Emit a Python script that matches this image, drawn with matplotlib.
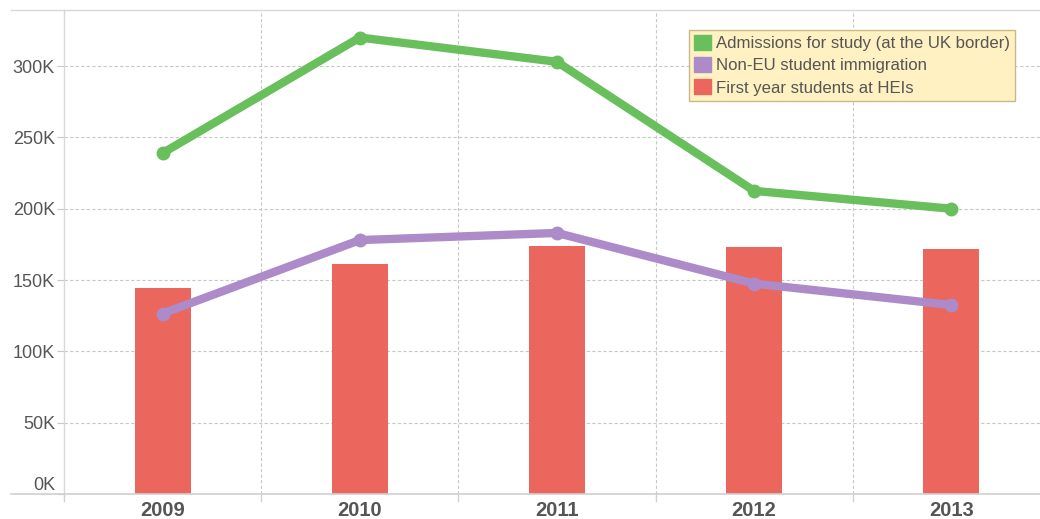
import numpy as np
import matplotlib
matplotlib.use("Agg")
import matplotlib.pyplot as plt
import matplotlib.transforms as mtransforms
from matplotlib.lines import Line2D
from matplotlib.patches import Patch

plt.rcParams['font.family'] = ['Liberation Sans', 'DejaVu Sans']

years = ['2009', '2010', '2011', '2012', '2013']
admissions = [239000, 320000, 303000, 212500, 200000]
non_eu = [126500, 178000, 183000, 147500, 132500]
first_year = [144500, 161500, 174000, 173000, 172000]

green = '#68bf5c'
purple = '#ad8ac8'
red = '#eb665c'
txt = '#555555'
gridc = '#c8c8c8'

fig = plt.figure(figsize=(10.4, 5.19), dpi=100)
ax = fig.add_axes([64 / 1040, 25 / 519, (1040 - 64) / 1040, (494 - 10) / 519])

x = np.arange(len(years))
ax.bar(x, first_year, width=0.284, color=red, zorder=2)
ax.plot(x, admissions, color=green, lw=6, marker='o', ms=9,
        solid_capstyle='round', zorder=3)
ax.plot(x, non_eu, color=purple, lw=6, marker='o', ms=9,
        solid_capstyle='round', zorder=3)

ax.set_xlim(-0.5, 4.45)
ax.set_ylim(0, 339300)

yt = np.arange(0, 300001, 50000)
ax.set_yticks(yt)
ax.set_yticklabels([f'{int(v/1000)}K' for v in yt], color=txt, fontsize=13)
ax.set_xticks(x)
ax.set_xticklabels(years, color=txt, fontsize=14.5, fontweight='bold')
ax.tick_params(axis='x', length=0, pad=5)
ax.tick_params(axis='y', length=5, color=gridc, pad=1.5)

# lift the 0K label above the baseline
lbl0 = ax.get_yticklabels()[0]
lbl0.set_transform(lbl0.get_transform() +
                   mtransforms.ScaledTranslation(0, 11 / 100, fig.dpi_scale_trans))

# horizontal grid
for v in yt[1:]:
    ax.axhline(v, color=gridc, lw=0.8, ls=(0, (3, 2)), zorder=1)
# vertical separators between categories
for b in np.arange(0.5, 4.0, 1.0):
    ax.axvline(b, color=gridc, lw=0.8, ls=(0, (3, 2)), zorder=1)

for s in ['top', 'right', 'bottom']:
    ax.spines[s].set_visible(False)
ax.spines['left'].set_color('#d8d8d8')
ax.spines['left'].set_linewidth(1)

# top and bottom frame lines extending to the left
fig.add_artist(Line2D([11 / 1040, 1], [1 - 10 / 519] * 2, color='#d8d8d8', lw=1))
fig.add_artist(Line2D([11 / 1040, 1], [1 - 494 / 519] * 2, color='#d0d0d0', lw=1.2))
for px in [64, 261, 458, 656, 853]:
    fig.add_artist(Line2D([px / 1040] * 2, [1 - 494 / 519, 1 - 501 / 519],
                          color='#d0d0d0', lw=1))

handles = [Patch(color=green, label='Admissions for study (at the UK border)'),
           Patch(color=purple, label='Non-EU student immigration'),
           Patch(color=red, label='First year students at HEIs')]
leg = ax.legend(handles=handles, loc='upper left', bbox_to_anchor=(625 / 976, 1 - 20 / 484),
                fontsize=12.1, frameon=True, fancybox=False, handlelength=1.0,
                handleheight=1.0, handletextpad=0.3, labelspacing=0.35,
                borderpad=0.3, borderaxespad=0)
leg.get_frame().set_facecolor('#fff1c1')
leg.get_frame().set_edgecolor('#c8b98a')
leg.get_frame().set_alpha(1)
for t in leg.get_texts():
    t.set_color(txt)

fig.savefig('out.png', dpi=100)
